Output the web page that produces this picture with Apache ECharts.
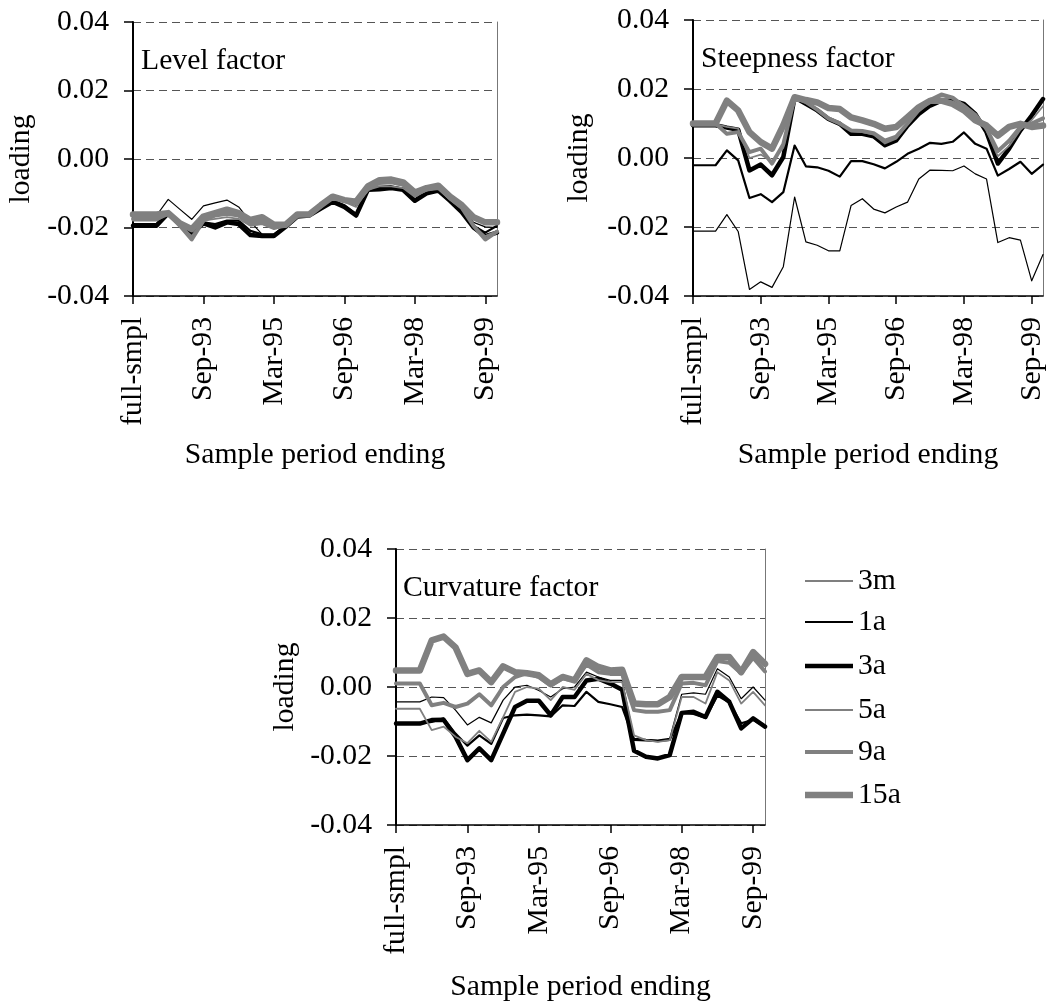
<!DOCTYPE html>
<html>
<head>
<meta charset="utf-8">
<title>Factor loadings by sample period</title>
<script src="https://cdn.jsdelivr.net/npm/echarts@6/dist/echarts.min.js"></script>
<style>
  html, body { margin: 0; padding: 0; background: #fff; }
  #chart { width: 1050px; height: 1001px; }
</style>
</head>
<body>
<div id="chart"></div>
<script>
// Sample-period end dates (quarterly), first entry is the full sample
const categories = [
  'full-smpl', 'Jun-92', 'Sep-92', 'Dec-92', 'Mar-93', 'Jun-93', 'Sep-93', 'Dec-93',
  'Mar-94', 'Jun-94', 'Sep-94', 'Dec-94', 'Mar-95', 'Jun-95', 'Sep-95', 'Dec-95',
  'Mar-96', 'Jun-96', 'Sep-96', 'Dec-96', 'Mar-97', 'Jun-97', 'Sep-97', 'Dec-97',
  'Mar-98', 'Jun-98', 'Sep-98', 'Dec-98', 'Mar-99', 'Jun-99', 'Sep-99', 'Dec-99'
];

const maturities = ['3m', '1a', '3a', '5a', '9a', '15a'];
const yTicks = [-0.04, -0.02, 0.00, 0.02, 0.04];

// Level factor loadings
const level3m  = [-0.0165,-0.0165,-0.0165,-0.0118,-0.0147,-0.0176,-0.0137,-0.0128,-0.0120,-0.0140,-0.0183,-0.0220,-0.0222,-0.0195,-0.0165,-0.0162,-0.0140,-0.0112,-0.0125,-0.0135,-0.0088,-0.0080,-0.0078,-0.0085,-0.0110,-0.0092,-0.0085,-0.0115,-0.0145,-0.0185,-0.0198,-0.0200];
const level1a  = [-0.0190,-0.0190,-0.0190,-0.0155,-0.0185,-0.0210,-0.0185,-0.0190,-0.0180,-0.0180,-0.0210,-0.0220,-0.0220,-0.0195,-0.0168,-0.0165,-0.0142,-0.0120,-0.0135,-0.0160,-0.0088,-0.0085,-0.0082,-0.0088,-0.0118,-0.0098,-0.0090,-0.0120,-0.0150,-0.0195,-0.0215,-0.0195];
const level3a  = [-0.0195,-0.0195,-0.0195,-0.0158,-0.0190,-0.0218,-0.0188,-0.0200,-0.0185,-0.0190,-0.0222,-0.0225,-0.0225,-0.0198,-0.0168,-0.0165,-0.0145,-0.0125,-0.0140,-0.0165,-0.0090,-0.0088,-0.0085,-0.0090,-0.0122,-0.0100,-0.0092,-0.0122,-0.0155,-0.0200,-0.0225,-0.0215];
const level5a  = [-0.0180,-0.0180,-0.0180,-0.0160,-0.0192,-0.0225,-0.0180,-0.0175,-0.0170,-0.0175,-0.0195,-0.0190,-0.0205,-0.0195,-0.0165,-0.0163,-0.0140,-0.0110,-0.0125,-0.0140,-0.0090,-0.0080,-0.0080,-0.0085,-0.0110,-0.0092,-0.0088,-0.0118,-0.0145,-0.0195,-0.0225,-0.0210];
const level9a  = [-0.0175,-0.0175,-0.0175,-0.0160,-0.0195,-0.0235,-0.0180,-0.0165,-0.0160,-0.0165,-0.0190,-0.0185,-0.0200,-0.0195,-0.0165,-0.0162,-0.0138,-0.0108,-0.0122,-0.0130,-0.0088,-0.0070,-0.0068,-0.0075,-0.0105,-0.0088,-0.0082,-0.0115,-0.0142,-0.0195,-0.0235,-0.0212];
const level15a = [-0.0162,-0.0162,-0.0162,-0.0158,-0.0188,-0.0205,-0.0168,-0.0158,-0.0148,-0.0158,-0.0178,-0.0170,-0.0192,-0.0192,-0.0162,-0.0162,-0.0135,-0.0110,-0.0120,-0.0125,-0.0080,-0.0062,-0.0060,-0.0068,-0.0098,-0.0085,-0.0078,-0.0110,-0.0135,-0.0170,-0.0185,-0.0185];

// Steepness factor loadings
const steep3m  = [-0.0212,-0.0212,-0.0212,-0.0164,-0.0213,-0.0381,-0.0359,-0.0375,-0.0315,-0.0113,-0.0243,-0.0253,-0.0269,-0.0269,-0.0138,-0.0118,-0.0148,-0.0159,-0.0142,-0.0128,-0.0061,-0.0035,-0.0036,-0.0037,-0.0023,-0.0046,-0.0061,-0.0245,-0.0231,-0.0238,-0.0356,-0.0280];
const steep1a  = [-0.0021,-0.0021,-0.0021,0.0022,-0.0007,-0.0116,-0.0105,-0.0128,-0.0099,0.0036,-0.0024,-0.0027,-0.0037,-0.0054,-0.0009,-0.0009,-0.0018,-0.0030,-0.0011,0.0012,0.0027,0.0044,0.0041,0.0047,0.0074,0.0041,0.0027,-0.0051,-0.0032,-0.0011,-0.0046,-0.0019];
const steep3a  = [0.0095,0.0095,0.0095,0.0088,0.0082,-0.0036,-0.0019,-0.0050,0.0003,0.0176,0.0157,0.0138,0.0113,0.0099,0.0070,0.0070,0.0063,0.0037,0.0051,0.0094,0.0128,0.0152,0.0166,0.0166,0.0157,0.0128,0.0075,-0.0016,0.0027,0.0080,0.0123,0.0171];
const steep5a  = [0.0098,0.0098,0.0098,0.0090,0.0085,0.0000,0.0010,-0.0010,0.0030,0.0176,0.0160,0.0140,0.0118,0.0104,0.0078,0.0075,0.0068,0.0042,0.0056,0.0098,0.0135,0.0160,0.0180,0.0172,0.0155,0.0128,0.0080,0.0005,0.0035,0.0082,0.0110,0.0150];
const steep9a  = [0.0100,0.0100,0.0100,0.0070,0.0075,0.0017,0.0027,-0.0016,0.0040,0.0176,0.0162,0.0140,0.0115,0.0100,0.0080,0.0078,0.0072,0.0050,0.0062,0.0100,0.0140,0.0168,0.0184,0.0175,0.0150,0.0125,0.0085,0.0020,0.0050,0.0090,0.0100,0.0115];
const steep15a = [0.0100,0.0100,0.0100,0.0166,0.0138,0.0075,0.0046,0.0027,0.0095,0.0176,0.0168,0.0161,0.0145,0.0142,0.0118,0.0109,0.0099,0.0085,0.0090,0.0118,0.0147,0.0166,0.0166,0.0157,0.0138,0.0109,0.0094,0.0065,0.0090,0.0099,0.0090,0.0094];

// Curvature factor loadings
const curv3m  = [-0.0043,-0.0043,-0.0043,-0.0029,-0.0031,-0.0067,-0.0110,-0.0088,-0.0104,-0.0038,0.0000,0.0005,-0.0010,-0.0029,-0.0005,0.0000,0.0043,0.0029,0.0019,0.0019,-0.0149,-0.0152,-0.0154,-0.0149,-0.0021,-0.0017,-0.0021,0.0053,0.0029,-0.0034,0.0000,-0.0038];
const curv1a  = [-0.0106,-0.0106,-0.0106,-0.0101,-0.0091,-0.0135,-0.0170,-0.0140,-0.0165,-0.0090,-0.0082,-0.0080,-0.0082,-0.0085,-0.0053,-0.0055,-0.0014,-0.0043,-0.0050,-0.0058,-0.0153,-0.0155,-0.0157,-0.0153,-0.0075,-0.0078,-0.0090,-0.0025,-0.0045,-0.0105,-0.0095,-0.0115];
const curv3a  = [-0.0106,-0.0106,-0.0106,-0.0096,-0.0095,-0.0144,-0.0212,-0.0178,-0.0212,-0.0135,-0.0058,-0.0040,-0.0040,-0.0082,-0.0029,-0.0029,0.0019,0.0024,0.0010,-0.0008,-0.0185,-0.0202,-0.0207,-0.0197,-0.0075,-0.0072,-0.0087,-0.0014,-0.0043,-0.0120,-0.0091,-0.0115];
const curv5a  = [-0.0063,-0.0063,-0.0063,-0.0125,-0.0115,-0.0144,-0.0163,-0.0127,-0.0159,-0.0087,-0.0014,0.0000,-0.0005,-0.0038,0.0000,-0.0008,0.0038,0.0020,0.0014,0.0014,-0.0140,-0.0154,-0.0159,-0.0154,-0.0029,-0.0029,-0.0048,0.0043,0.0019,-0.0048,-0.0014,-0.0053];
const curv9a  = [0.0010,0.0010,0.0010,-0.0053,-0.0046,-0.0058,-0.0048,-0.0021,-0.0053,0.0000,0.0029,0.0040,0.0029,0.0005,0.0025,0.0018,0.0065,0.0043,0.0038,0.0038,-0.0067,-0.0072,-0.0072,-0.0067,0.0010,0.0012,0.0005,0.0075,0.0070,0.0040,0.0085,0.0045];
const curv15a = [0.0048,0.0048,0.0048,0.0135,0.0146,0.0115,0.0038,0.0048,0.0014,0.0060,0.0043,0.0040,0.0034,0.0008,0.0029,0.0019,0.0077,0.0058,0.0048,0.0050,-0.0048,-0.0050,-0.0050,-0.0029,0.0029,0.0029,0.0029,0.0087,0.0087,0.0043,0.0101,0.0067];

const panels = [
  { title: 'Level factor',     values: [level3m, level1a, level3a, level5a, level9a, level15a] },
  { title: 'Steepness factor', values: [steep3m, steep1a, steep3a, steep5a, steep9a, steep15a] },
  { title: 'Curvature factor', values: [curv3m, curv1a, curv3a, curv5a, curv9a, curv15a] }
];

// ---- styling ----
const FONT = "'Liberation Serif', 'Times New Roman', serif";
const FS = 29.7;
const lineLook = {
  '3m':  { color: '#000000', width: 1.2 },
  '1a':  { color: '#000000', width: 2.2 },
  '3a':  { color: '#000000', width: 4.5 },
  '5a':  { color: '#808080', width: 1.8 },
  '9a':  { color: '#808080', width: 4 },
  '15a': { color: '#808080', width: 6.5 }
};
const frames = [
  { left: 133, top: 22,  width: 364, height: 274, titleLeft: 141, titleTop: 46, xGap: 144, yGap: 97 },
  { left: 693, top: 20,  width: 350, height: 276, titleLeft: 701, titleTop: 44, xGap: 144, yGap: 99 },
  { left: 396, top: 549, width: 369, height: 276, titleLeft: 403, titleTop: 573, xGap: 147, yGap: 96 }
];
const legendRows = [581, 622, 666, 710, 752, 795];

const grid = [], xAxis = [], yAxis = [], series = [], title = [], legend = [];

frames.forEach((f, p) => {
  grid.push({ left: f.left, top: f.top, width: f.width, height: f.height,
              containLabel: false, outerBoundsMode: 'none' });
  title.push({ text: panels[p].title, left: f.titleLeft, top: f.titleTop, padding: 0,
               textStyle: { fontFamily: FONT, fontSize: FS, fontWeight: 'normal', color: '#000' } });
  xAxis.push({
    type: 'category', gridIndex: p, data: categories, boundaryGap: false,
    axisLine: { onZero: false, lineStyle: { color: '#000', width: 1.5 } },
    axisTick: { show: true, inside: false, length: 8, interval: 5, lineStyle: { color: '#000', width: 1.5 } },
    axisLabel: { interval: 5, rotate: 90, margin: 21, fontFamily: FONT, fontSize: FS, color: '#000' },
    splitLine: { show: false },
    name: 'Sample period ending', nameLocation: 'middle', nameGap: f.xGap,
    nameTextStyle: { fontFamily: FONT, fontSize: FS, color: '#000' }
  });
  yAxis.push({
    type: 'value', gridIndex: p, min: yTicks[0], max: yTicks[yTicks.length - 1],
    interval: yTicks[1] - yTicks[0],
    axisLine: { show: true, onZero: false, lineStyle: { color: '#000', width: 2 } },
    axisTick: { show: true, inside: false, length: 9, lineStyle: { color: '#000', width: 1.5 } },
    axisLabel: { margin: 24, fontFamily: FONT, fontSize: FS, color: '#000',
                 formatter: v => v.toFixed(2) },
    splitLine: { show: true, lineStyle: { color: '#555', width: 1.2, type: [8, 5] } },
    name: 'loading', nameLocation: 'middle', nameGap: f.yGap,
    nameTextStyle: { fontFamily: FONT, fontSize: FS, color: '#000' }
  });
  // plain frame line on the right-hand side
  yAxis.push({
    type: 'value', gridIndex: p, position: 'right',
    min: yTicks[0], max: yTicks[yTicks.length - 1],
    axisLine: { show: true, onZero: false, lineStyle: { color: '#777', width: 1 } },
    axisTick: { show: false }, axisLabel: { show: false }, splitLine: { show: false }
  });
  maturities.forEach((m, k) => {
    const look = lineLook[m];
    series.push({
      type: 'line', name: m, xAxisIndex: p, yAxisIndex: p * 2,
      data: panels[p].values[k], showSymbol: false, symbol: 'none',
      color: look.color, itemStyle: { color: look.color },
      lineStyle: { color: look.color, width: look.width, cap: 'round', join: 'round' },
      emphasis: { disabled: true }, silent: true
    });
  });
});

maturities.forEach((m, k) => {
  const look = lineLook[m];
  legend.push({
    data: [m], left: 805, top: legendRows[k] - 15, padding: 0, selectedMode: false,
    icon: 'rect', itemWidth: 48, itemHeight: look.width, itemGap: 0,
    textStyle: { fontFamily: FONT, fontSize: FS, color: '#000', padding: [0, 0, 0, 0] }
  });
});

const chart = echarts.init(document.getElementById('chart'), null, { renderer: 'canvas' });
chart.setOption({
  animation: false,
  backgroundColor: '#fff',
  title, legend, grid, xAxis, yAxis, series
});
</script>
</body>
</html>
